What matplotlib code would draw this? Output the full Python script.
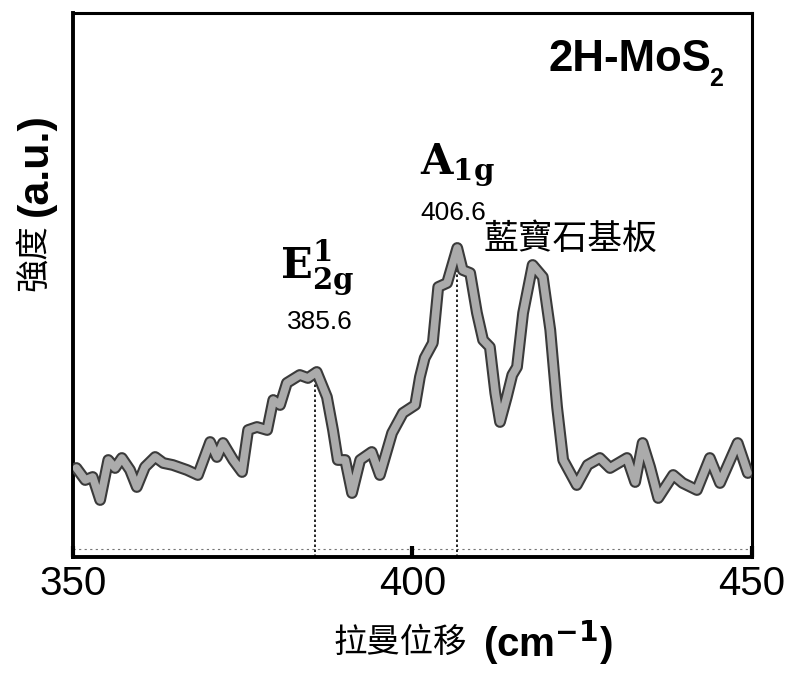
import matplotlib
matplotlib.use("Agg")
import matplotlib.pyplot as plt

# Raman shift (cm^-1) and intensity (a.u.)
raman_shift = [350.5, 351.8, 352.9, 354.0, 355.2, 356.2, 357.2, 358.4, 359.4, 360.6,
               362.1, 363.3, 364.7, 366.8, 368.4, 370.2, 371.2, 372.1, 373.6, 374.9,
               375.8, 377.1, 378.6, 379.5, 380.5, 381.5, 383.4, 384.6, 385.9, 387.4,
               388.3, 389.0, 390.1, 391.1, 392.3, 394.0, 395.2, 397.0, 398.6, 400.4,
               401.1, 401.8, 403.0, 403.8, 405.1, 406.6, 407.4, 408.5, 409.5, 410.4,
               411.4, 412.2, 412.9, 413.9, 414.7, 415.4, 416.3, 417.7, 419.2, 420.3,
               421.3, 422.2, 424.2, 425.8, 427.6, 429.1, 431.6, 432.8, 433.9, 435.0,
               436.2, 438.4, 439.8, 441.9, 443.8, 445.3, 447.9, 449.4]
intensity = [89, 77, 80, 57, 97, 89, 99, 87, 70, 90,
             100, 94, 92, 87, 82, 115, 100, 114, 97, 85,
             127, 130, 127, 157, 152, 174, 182, 179, 185, 160,
             127, 97, 97, 64, 97, 105, 82, 124, 144, 152,
             180, 199, 214, 270, 274, 309, 287, 284, 244, 217,
             210, 164, 135, 160, 182, 190, 244, 292, 280, 227,
             150, 97, 72, 92, 99, 89, 99, 75, 114, 90,
             59, 82, 74, 67, 99, 74, 114, 84]

peak_positions = [385.6, 406.6]
peak_heights = [185, 309]
peak_labels = ["385.6", "406.6"]
peak_names = [r"$\mathbf{E^{1}_{2g}}$", r"$\mathbf{A_{1g}}$"]
x_ticks = [350, 400, 450]

plt.rcParams["mathtext.fontset"] = "dejavuserif"
CJK = ["Noto Sans CJK TC", "DejaVu Sans"]
SANS = ["Liberation Sans", "DejaVu Sans"]

fig = plt.figure(figsize=(7.89, 6.75), dpi=100)
ax = fig.add_axes([0.0925, 0.1748, 0.8605, 0.806])

ax.plot(raman_shift, intensity, color="#3a3a3a", lw=8.5, solid_joinstyle="round",
        solid_capstyle="round", zorder=3)
ax.plot(raman_shift, intensity, color="#ababab", lw=5.5, solid_joinstyle="round",
        solid_capstyle="round", zorder=4)

for pos, h in zip(peak_positions, peak_heights):
    ax.plot([pos, pos], [0, h + 5], color="black", lw=1.2, ls=(0, (1.5, 1.5)), zorder=2)

ax.axhline(8, color="#777777", lw=0.8, ls=(0, (2, 3)), zorder=1)

ax.set_xlim(350, 450)
ax.set_ylim(0, 544)
ax.set_xticks(x_ticks)
ax.set_xticklabels([str(t) for t in x_ticks], fontsize=29, family=SANS)
ax.tick_params(axis="x", direction="in", length=8, width=3, pad=6)
ax.set_yticks([])
for side, sp in ax.spines.items():
    sp.set_linewidth(2.8 if side in ("left", "bottom") else 2.2)

# annotations
ax.text(386.4, 235, peak_labels[0], ha="center", va="center", fontsize=19, family=SANS)
ax.text(385.9, 289, peak_names[0], ha="center", va="center", fontsize=30)
ax.text(406.0, 344, peak_labels[1], ha="center", va="center", fontsize=19, family=SANS)
ax.text(406.6, 392, peak_names[1], ha="center", va="center", fontsize=30)
ax.text(423.3, 318, "藍寶石基板", ha="center", va="center", fontsize=25, family=CJK)
ax.text(420.0, 497, "2H-MoS", ha="left", va="center", fontsize=31.5, family=SANS,
        weight="bold")
ax.text(443.7, 478, "2", ha="left", va="center", fontsize=18, family=SANS,
        weight="bold")

# axis labels
fig.text(400 / 789, 1 - 642 / 675, "拉曼位移", ha="center", va="center", fontsize=24,
         family=CJK)
fig.text(548 / 789, 1 - 643 / 675, r"(cm$^{\mathbf{-1}}$)", ha="center", va="center",
         fontsize=29, family=SANS, weight="bold", math_fontfamily="dejavusans")
fig.text(34 / 789, 1 - 258 / 675, "強度", ha="center", va="center", fontsize=24,
         family=CJK, rotation=90)
fig.text(36 / 789, 1 - 165 / 675, "(a.u.)", ha="center", va="center", fontsize=31,
         family=SANS, weight="bold", rotation=90)

fig.savefig("out.png", dpi=100)
